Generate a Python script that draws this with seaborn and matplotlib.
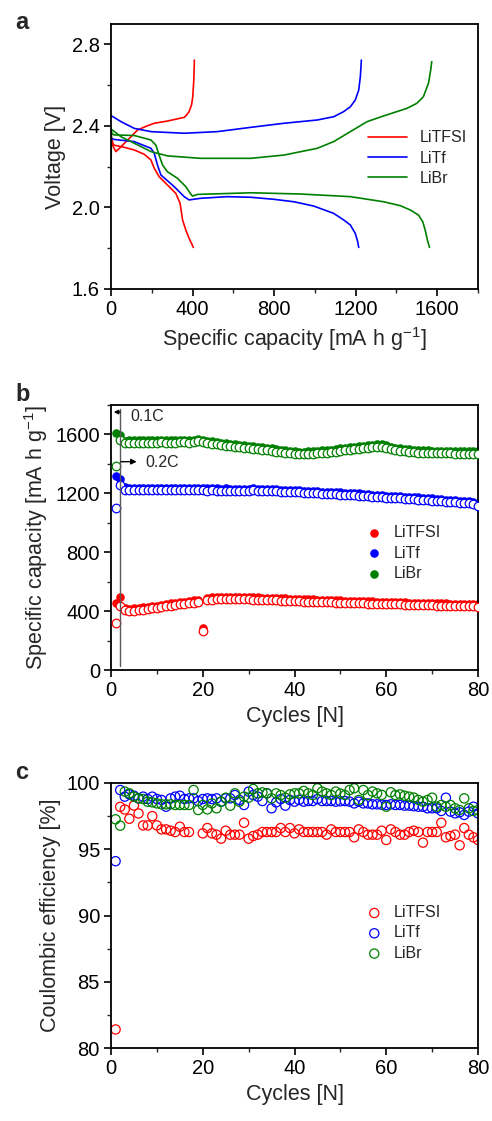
import numpy as np
import pandas as pd
import matplotlib
matplotlib.use("Agg")
import matplotlib.pyplot as plt
import seaborn as sns
from matplotlib.ticker import MultipleLocator, FormatStrFormatter

# ---------------- data ----------------
names = ["LiTFSI", "LiTf", "LiBr"]
colors = {"LiTFSI": "#ff0000", "LiTf": "#0000ff", "LiBr": "#008000"}

# panel a: voltage profiles (capacity mAh/g, voltage V)
tfsi_dis_cap = [0, 13, 65, 114, 163, 196, 212, 236, 277, 318, 339, 351, 367, 383, 404]
tfsi_dis_v = [2.34, 2.306, 2.295, 2.282, 2.261, 2.233, 2.192, 2.151, 2.110, 2.069, 2.020, 1.939, 1.889,
              1.849, 1.804]
tfsi_chg_cap = [0, 10, 24, 49, 98, 130, 179, 212, 277, 359, 367, 383, 395, 401, 406, 409]
tfsi_chg_v = [2.36, 2.30, 2.274, 2.298, 2.347, 2.380, 2.401, 2.413, 2.424, 2.442, 2.449, 2.470, 2.503,
              2.543, 2.625, 2.723]

tf_dis_cap = [0, 13, 114, 196, 212, 228, 245, 269, 310, 359, 383, 440, 571, 685, 799, 897, 994, 1092,
              1141, 1174, 1198, 1210, 1215]
tf_dis_v = [2.34, 2.334, 2.323, 2.290, 2.266, 2.208, 2.159, 2.138, 2.102, 2.053, 2.037, 2.045, 2.053,
            2.050, 2.040, 2.028, 2.007, 1.971, 1.939, 1.914, 1.873, 1.832, 1.804]
tf_chg_cap = [0, 10, 49, 114, 196, 359, 522, 685, 848, 1011, 1092, 1141, 1174, 1198, 1215, 1223, 1228]
tf_chg_v = [2.45, 2.445, 2.421, 2.388, 2.372, 2.364, 2.372, 2.393, 2.413, 2.429, 2.445, 2.470, 2.494,
            2.527, 2.576, 2.642, 2.723]

br_dis_cap = [0, 13, 114, 196, 220, 236, 253, 277, 326, 367, 391, 400, 424, 685, 929, 1174, 1337, 1418,
              1467, 1508, 1529, 1541, 1552, 1562]
br_dis_v = [2.37, 2.356, 2.353, 2.331, 2.306, 2.257, 2.208, 2.175, 2.143, 2.102, 2.066, 2.056, 2.064,
            2.072, 2.066, 2.053, 2.028, 2.009, 1.988, 1.963, 1.930, 1.889, 1.840, 1.804]
br_chg_cap = [0, 2, 13, 49, 114, 196, 277, 440, 685, 848, 1011, 1092, 1174, 1256, 1337, 1451, 1500,
              1532, 1557, 1568, 1573]
br_chg_v = [2.12, 2.383, 2.375, 2.347, 2.315, 2.274, 2.253, 2.241, 2.241, 2.257, 2.290, 2.323, 2.372,
            2.421, 2.449, 2.486, 2.511, 2.543, 2.609, 2.674, 2.715]

# panel b: specific capacity vs cycle (filled = charge, open = discharge)
cycles = list(range(1, 81))
tfsi_fill = [457, 498, 420, 416, 418, 422, 425, 430, 434, 438, 443, 448, 452, 457, 461, 465, 469, 473, 477, 283,
             490, 493, 495, 496, 497, 497, 496, 496, 495, 494, 494, 493, 492, 491, 490, 488, 487, 486, 484, 483,
             482, 481, 480, 479, 478, 477, 476, 475, 474, 473, 472, 471, 470, 469, 468, 467, 466, 465, 464, 463,
             462, 461, 460, 459, 458, 457, 456, 456, 455, 454, 453, 452, 452, 451, 450, 449, 448, 448, 447, 446]
tfsi_open = [321, 435, 405, 400, 403, 407, 410, 414, 418, 423, 428, 432, 437, 441, 446, 450, 453, 457, 462, 262,
             474, 477, 479, 480, 481, 482, 481, 480, 480, 479, 478, 477, 476, 475, 474, 473, 471, 470, 468, 467,
             466, 465, 464, 463, 462, 461, 460, 459, 458, 457, 456, 455, 454, 453, 452, 451, 450, 449, 448, 447,
             446, 445, 445, 444, 443, 442, 441, 440, 440, 439, 438, 437, 436, 436, 435, 434, 433, 432, 432, 431]
tf_fill = [1318, 1295, 1240, 1238, 1239, 1237, 1238, 1236, 1237, 1236, 1235, 1237, 1236, 1235, 1236, 1234, 1235,
           1236, 1234, 1235, 1233, 1234, 1233, 1232, 1233, 1232, 1231, 1232, 1230, 1231, 1234, 1230, 1229, 1230,
           1228, 1227, 1225, 1224, 1222, 1221, 1220, 1218, 1216, 1214, 1213, 1211, 1210, 1209, 1208, 1206, 1204,
           1203, 1201, 1199, 1197, 1195, 1192, 1190, 1187, 1185, 1184, 1182, 1180, 1178, 1176, 1174, 1172, 1170,
           1167, 1165, 1162, 1160, 1157, 1155, 1153, 1151, 1149, 1146, 1139, 1128]
tf_open = [1098, 1256, 1226, 1224, 1225, 1223, 1224, 1222, 1223, 1222, 1221, 1223, 1222, 1221, 1222, 1220, 1221,
           1222, 1220, 1221, 1219, 1220, 1219, 1218, 1219, 1218, 1217, 1218, 1216, 1217, 1220, 1216, 1215, 1216,
           1214, 1213, 1211, 1210, 1208, 1207, 1206, 1204, 1202, 1200, 1199, 1197, 1196, 1195, 1194, 1192, 1190,
           1189, 1187, 1185, 1183, 1181, 1178, 1176, 1173, 1171, 1170, 1168, 1166, 1164, 1162, 1160, 1158, 1156,
           1153, 1151, 1148, 1146, 1143, 1141, 1139, 1137, 1135, 1132, 1125, 1114]
br_fill = [1612, 1596, 1557, 1559, 1561, 1560, 1562, 1561, 1560, 1562, 1563, 1561, 1562, 1560, 1563, 1564, 1562,
           1565, 1572, 1563, 1558, 1554, 1549, 1545, 1541, 1537, 1533, 1530, 1527, 1524, 1521, 1517, 1513, 1509,
           1505, 1501, 1497, 1493, 1489, 1486, 1484, 1484, 1485, 1487, 1489, 1491, 1494, 1497, 1501, 1505, 1509,
           1512, 1516, 1520, 1523, 1526, 1529, 1532, 1534, 1527, 1516, 1511, 1507, 1503, 1500, 1496, 1493, 1492,
           1491, 1490, 1489, 1489, 1488, 1488, 1487, 1487, 1486, 1486, 1485, 1485]
br_open = [1388, 1562, 1540, 1542, 1544, 1543, 1545, 1544, 1543, 1545, 1546, 1544, 1545, 1543, 1546, 1547, 1545,
           1548, 1556, 1546, 1541, 1537, 1532, 1528, 1524, 1520, 1516, 1513, 1510, 1507, 1504, 1500, 1496, 1492,
           1488, 1484, 1480, 1476, 1472, 1469, 1467, 1467, 1468, 1470, 1472, 1474, 1477, 1480, 1484, 1488, 1492,
           1495, 1499, 1503, 1506, 1509, 1512, 1515, 1517, 1510, 1499, 1494, 1490, 1486, 1483, 1479, 1476, 1475,
           1474, 1473, 1472, 1472, 1471, 1471, 1470, 1470, 1469, 1469, 1468, 1468]
rate_switch_cycle = 2

# panel c: coulombic efficiency (%)
nan = np.nan
tfsi_ce = [81.4, 98.2, 98.0, 97.3, 98.3, 97.7, 96.8, 96.8, 97.5, 96.8,
           96.5, 96.5, 96.4, 96.3, 96.7, 96.3, 96.3, nan, nan, 96.2,
           96.6, 96.2, 96.1, 95.8, 96.4, 96.1, 96.1, 96.1, 97.0, 95.8,
           96.0, 96.1, 96.3, 96.3, 96.3, 96.3, 96.6, 96.3, 96.6, 96.2,
           96.5, 96.3, 96.3, 96.3, 96.3, 96.3, 96.1, 96.5, 96.3, 96.3,
           96.3, 96.3, 95.9, 96.5, 96.3, 96.1, 96.1, 96.1, 96.4, 95.7,
           96.5, 96.3, 96.1, 96.1, 96.3, 96.4, 96.3, 95.5, 96.3, 96.3,
           96.3, 97.0, 95.9, 96.0, 96.1, 95.3, 96.6, 96.1, 95.9, 95.7]
tf_ce = [94.1, 99.47, 98.97, 99.14, 99.04, 98.84, 98.97, 98.79, 98.97, 98.79,
         98.72, 98.21, 98.84, 98.97, 99.04, 98.79, 98.84, 98.84, 98.64, 98.79,
         98.84, 98.79, 98.84, 98.59, 98.84, 98.84, 99.09, 98.72, 98.34, 99.35,
         99.09, 98.97, 98.64, 99.22, 98.09, 98.54, 98.79, 98.29, 98.72, 98.59,
         98.72, 98.59, 98.64, 98.64, 98.79, 98.64, 98.64, 98.64, 98.59, 98.62,
         98.64, 98.59, 98.46, 98.59, 98.46, 98.46, 98.39, 98.39, 98.36, 98.34,
         98.39, 98.34, 98.34, 98.29, 98.29, 98.25, 98.21, 98.21, 98.09, 98.09,
         98.09, 97.89, 98.89, 97.84, 97.71, 97.79, 97.59, 97.84, 98.21, 97.71]
br_ce = [97.26, 96.78, 99.35, 99.22, 98.97, 98.84, 98.79, 98.59, 98.54, 98.46,
         98.39, 98.39, 98.39, 98.34, 98.34, 98.34, 98.34, 99.47, 97.96, 98.34,
         98.01, 98.46, 98.09, 98.59, 98.89, 98.29, 99.22, 98.59, 98.97, 98.89,
         99.55, 99.22, 99.29, 99.22, 98.84, 99.22, 99.09, 98.89, 99.14, 99.22,
         99.22, 99.40, 99.22, 99.09, 99.60, 99.35, 99.22, 99.09, 99.35, 99.20,
         99.09, 99.47, 99.60, 98.72, 99.47, 99.09, 99.35, 99.22, 99.10, 98.21,
         99.30, 99.09, 99.14, 99.04, 98.97, 98.90, 98.72, 98.59, 98.72, 98.89,
         98.21, 98.34, 98.21, 98.34, 98.09, 97.96, 98.84, 98.09, 97.89, 97.96]

# ---------------- style ----------------
sns.set_theme(style="ticks")
plt.rcParams['font.family'] = ['Liberation Sans', 'DejaVu Sans']
plt.rcParams['mathtext.default'] = 'regular'
plt.rcParams['axes.linewidth'] = 1.3

TICK_FS = 14.5
LABEL_FS = 15.5
LEG_FS = 11.5
ANN_FS = 11.5

fig = plt.figure(figsize=(4.92, 11.21), dpi=100)
ax_a = fig.add_axes([111/492, 1-289/1121, 367/492, 265/1121])
ax_b = fig.add_axes([111/492, 1-670/1121, 367/492, 265/1121])
ax_c = fig.add_axes([111/492, 1-1048/1121, 367/492, 265/1121])

def style_axis(ax):
    for sp in ax.spines.values():
        sp.set_visible(True)
        sp.set_color("black")
        sp.set_linewidth(1.3)
    ax.tick_params(which="major", direction="out", length=5, width=1.2, labelsize=TICK_FS,
                   colors="black", pad=3)
    ax.tick_params(which="minor", direction="out", length=3, width=1.0)
    ax.tick_params(top=False, right=False)

# ---- panel a ----
curves = [
    ("LiTFSI", tfsi_dis_cap, tfsi_dis_v, tfsi_chg_cap, tfsi_chg_v),
    ("LiTf", tf_dis_cap, tf_dis_v, tf_chg_cap, tf_chg_v),
    ("LiBr", br_dis_cap, br_dis_v, br_chg_cap, br_chg_v),
]
for name, dc, dv, cc, cv in curves:
    sns.lineplot(x=dc, y=dv, sort=False, estimator=None, color=colors[name], lw=1.2, ax=ax_a, label=name)
    sns.lineplot(x=cc, y=cv, sort=False, estimator=None, color=colors[name], lw=1.2, ax=ax_a)
ax_a.set_xlim(0, 1800)
ax_a.set_ylim(1.6, 2.9)
ax_a.xaxis.set_major_locator(MultipleLocator(400))
ax_a.xaxis.set_minor_locator(MultipleLocator(200))
ax_a.yaxis.set_major_locator(MultipleLocator(0.4))
ax_a.yaxis.set_minor_locator(MultipleLocator(0.2))
ax_a.yaxis.set_major_formatter(FormatStrFormatter('%.1f'))
ax_a.set_xlabel("Specific capacity [mA h g$^{-1}$]", fontsize=LABEL_FS)
ax_a.set_ylabel("Voltage [V]", fontsize=LABEL_FS)
style_axis(ax_a)
ax_a.legend(loc="center left", bbox_to_anchor=(0.70, 0.494), frameon=False, fontsize=LEG_FS,
            handlelength=2.45, handletextpad=0.8, labelspacing=0.33, borderpad=0, borderaxespad=0)

# ---- panel b ----
series_b = [("LiTFSI", tfsi_fill, tfsi_open), ("LiTf", tf_fill, tf_open), ("LiBr", br_fill, br_open)]
for name, fill, opn in series_b:
    sns.scatterplot(x=cycles, y=fill, color=colors[name], s=38, linewidth=0, ax=ax_b, label=name, zorder=2)
for name, fill, opn in series_b:
    sns.scatterplot(x=cycles, y=opn, facecolor="white", edgecolor=colors[name], s=38, linewidth=0.9,
                    ax=ax_b, zorder=3)
ax_b.plot([rate_switch_cycle, rate_switch_cycle], [30, 1770], color="0.35", lw=1.0, zorder=4)
ax_b.annotate("", xy=(0.6, 1752), xytext=(rate_switch_cycle, 1752),
              arrowprops=dict(arrowstyle="-|>", color="black", lw=1.0, mutation_scale=6,
                              shrinkA=0, shrinkB=0), zorder=5)
ax_b.text(4.3, 1722, "0.1C", fontsize=ANN_FS, va="center", ha="left")
ax_b.annotate("", xy=(5.6, 1415), xytext=(rate_switch_cycle + 0.2, 1415),
              arrowprops=dict(arrowstyle="-|>", color="black", lw=1.0, mutation_scale=8,
                              shrinkA=0, shrinkB=0), zorder=5)
ax_b.text(7.4, 1412, "0.2C", fontsize=ANN_FS, va="center", ha="left")
ax_b.set_xlim(0, 80)
ax_b.set_ylim(0, 1800)
ax_b.xaxis.set_major_locator(MultipleLocator(20))
ax_b.xaxis.set_minor_locator(MultipleLocator(10))
ax_b.yaxis.set_major_locator(MultipleLocator(400))
ax_b.yaxis.set_minor_locator(MultipleLocator(200))
ax_b.set_xlabel("Cycles [N]", fontsize=LABEL_FS)
ax_b.set_ylabel("Specific capacity [mA h g$^{-1}$]", fontsize=LABEL_FS)
style_axis(ax_b)
hb, lb = ax_b.get_legend_handles_labels()
ax_b.legend(hb[:3], lb[:3], loc="center left", bbox_to_anchor=(0.70, 0.4415), frameon=False,
            fontsize=LEG_FS, handlelength=0.8, handletextpad=0.8, labelspacing=0.33,
            borderpad=0, borderaxespad=0)

# ---- panel c ----
series_c = [("LiTFSI", tfsi_ce), ("LiTf", tf_ce), ("LiBr", br_ce)]
for name, ce in series_c:
    sns.scatterplot(x=cycles, y=ce, facecolor="none", edgecolor=colors[name], s=44, linewidth=0.9,
                    ax=ax_c, label=name)
ax_c.set_xlim(0, 80)
ax_c.set_ylim(80, 100)
ax_c.xaxis.set_major_locator(MultipleLocator(20))
ax_c.xaxis.set_minor_locator(MultipleLocator(10))
ax_c.yaxis.set_major_locator(MultipleLocator(5))
ax_c.yaxis.set_minor_locator(MultipleLocator(2.5))
ax_c.set_xlabel("Cycles [N]", fontsize=LABEL_FS)
ax_c.set_ylabel("Coulombic efficiency [%]", fontsize=LABEL_FS)
style_axis(ax_c)
ax_c.legend(loc="center left", bbox_to_anchor=(0.70, 0.434), frameon=False,
            fontsize=LEG_FS, handlelength=0.8, handletextpad=0.8, labelspacing=0.33,
            borderpad=0, borderaxespad=0)

# panel letters
for letter, ybase in [("a", 29), ("b", 401), ("c", 779)]:
    fig.text(15/492, 1 - ybase/1121, letter, fontsize=17, fontweight="bold", va="baseline", ha="left")

fig.savefig("out.png", dpi=100)
